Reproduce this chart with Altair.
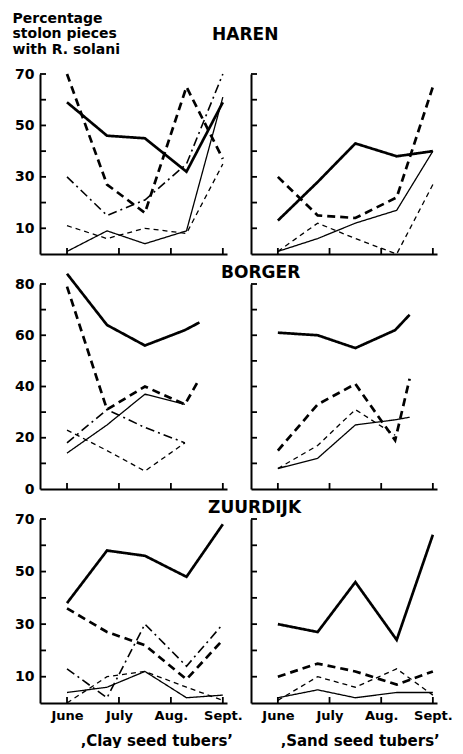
import json
import altair as alt
import pandas as pd

FONT = "DejaVu Sans"

# ---------------- data ----------------
months = ["June", "July", "Aug.", "Sept."]
month_ticks = [0, 1, 2, 3]

# sampling dates (in months after 1 June)
dates_haren = [0, 0.77, 1.5, 2.3, 3.0]
dates_borger = [0, 0.77, 1.5, 2.27, 2.55]
dates_zuurdijk = [0, 0.77, 1.5, 2.3, 3.0]

series_names = ["A", "B", "C", "D", "E"]

# HAREN
haren_clay_a = [59, 46, 45, 32, 59]
haren_clay_b = [70, 27, 16, 65, 37]
haren_clay_c = [1, 9, 4, 9, 61]
haren_clay_d = [11, 6, 10, 8, 35]
haren_clay_e = [30, 15, 21, 35, 70]

haren_sand_a = [13, 28, 43, 38, 40]
haren_sand_b = [30, 15, 14, 22, 65]
haren_sand_c = [1, 6, 12, 17, 40]
haren_sand_d = [1, 12, 6, 0, 27]

# BORGER
borger_clay_a = [84, 64, 56, 62, 65]
borger_clay_b = [79, 31, 40, 33, 43]
borger_clay_c = [14, 25, 37, 33, None]
borger_clay_d = [23, 15, 7, 18, None]
borger_clay_e = [18, 31, 24, 18, None]

borger_sand_a = [61, 60, 55, 62, 68]
borger_sand_b = [15, 33, 41, 19, 43]
borger_sand_c = [8, 12, 25, 27, 28]
borger_sand_d = [8, 17, 31, 21, None]

# ZUURDIJK
zuurdijk_clay_a = [38, 58, 56, 48, 68]
zuurdijk_clay_b = [36, 27, 22, 9, 24]
zuurdijk_clay_c = [4, 6, 12, 2, 3]
zuurdijk_clay_d = [0, 10, 12, 6, 1]
zuurdijk_clay_e = [13, 2, 30, 14, 30]

zuurdijk_sand_a = [30, 27, 46, 24, 64]
zuurdijk_sand_b = [10, 15, 12, 7, 12]
zuurdijk_sand_c = [2, 5, 2, 4, 4]
zuurdijk_sand_d = [1, 10, 6, 13, 3]

haren_labels = [10, 30, 50, 70]
borger_labels = [0, 20, 40, 60, 80]
zuurdijk_labels = [10, 30, 50, 70]

y_title = ["Percentage", "stolon pieces", "with R. solani"]
clay_caption = "\u201aClay seed tubers\u2019"
sand_caption = "\u201aSand seed tubers\u2019"

# ---------------- styles ----------------
series_width = [2.7, 2.7, 1.3, 1.3, 1.6]
series_dash = [[1, 0], [8, 5], [1, 0], [5, 4], [9, 4, 2, 4]]

LEFT_W, RIGHT_W = 187, 186
X_DOMAIN = [-0.52, 3.08]


def frame(dates, cols):
    rows = []
    for name, vals in zip(series_names, cols):
        for d, v in zip(dates, vals):
            if v is not None:
                rows.append({"month": d, "pct": v, "series": name})
    return pd.DataFrame(rows)


def panel(df, ymax, ylabels, w, h, left, bottom, ytitle=None, xtitle=None,
          xtitle_x=0, title=None):
    xs = alt.Scale(domain=X_DOMAIN, nice=False, zero=False)
    ys = alt.Scale(domain=[0, ymax], nice=False)
    label_expr = json.dumps(months) + "[datum.value]"
    xkw = dict(values=month_ticks, ticks=False, grid=False, domainColor="black",
               domainWidth=2, labels=bottom, labelExpr=label_expr,
               labelFont=FONT, labelFontSize=13, labelFontWeight="bold",
               labelColor="black", labelPadding=6, title=xtitle)
    if xtitle:
        xkw.update(titleFont=FONT, titleFontSize=15, titleFontWeight="bold",
                   titleColor="black", titleAlign="left", titleX=xtitle_x,
                   titleY=42, titleBaseline="alphabetic")
    xaxis = alt.Axis(**xkw)
    ykw = dict(values=ylabels, labels=left, ticks=False, grid=False,
               domainColor="black", domainWidth=2, labelFont=FONT,
               labelFontSize=14, labelFontWeight="bold", labelColor="black",
               labelPadding=6, title=ytitle)
    if ytitle:
        ykw.update(titleAngle=0, titleAlign="left", titleBaseline="alphabetic",
                   titleX=-28, titleY=-52, titleFont=FONT, titleFontSize=14,
                   titleFontWeight="bold", titleColor="black",
                   titleLineHeight=15.5)
    yaxis = alt.Axis(**ykw)

    layers = []
    for name, wd, dash in zip(series_names, series_width, series_dash):
        sub = df[df["series"] == name]
        if len(sub) == 0:
            continue
        layers.append(
            alt.Chart(sub).mark_line(color="black", strokeWidth=wd, strokeDash=dash)
            .encode(x=alt.X("month:Q", scale=xs, axis=xaxis),
                    y=alt.Y("pct:Q", scale=ys, axis=yaxis))
        )
    ytick_df = pd.DataFrame({"v": list(range(10, ymax + 1, 10))})
    layers.append(
        alt.Chart(ytick_df).mark_rule(color="black", strokeWidth=1.8)
        .encode(y=alt.Y("v:Q", scale=ys, axis=yaxis), x=alt.value(0), x2=alt.value(6))
    )
    xtick_df = pd.DataFrame({"m": month_ticks})
    layers.append(
        alt.Chart(xtick_df).mark_rule(color="black", strokeWidth=1.8)
        .encode(x=alt.X("m:Q", scale=xs, axis=xaxis), y=alt.value(h), y2=alt.value(h - 6))
    )
    ch = alt.layer(*layers).properties(width=w, height=h)
    if title:
        ch = ch.properties(title=title)
    return ch


def row_title(text, dx, dy):
    return alt.TitleParams(text=text, anchor="start", dx=dx, dy=dy, offset=0,
                           baseline="alphabetic", font=FONT, fontSize=17,
                           fontWeight="bold", color="black")


haren_clay = frame(dates_haren, [haren_clay_a, haren_clay_b, haren_clay_c, haren_clay_d, haren_clay_e])
haren_sand = frame(dates_haren, [haren_sand_a, haren_sand_b, haren_sand_c, haren_sand_d])
borger_clay = frame(dates_borger, [borger_clay_a, borger_clay_b, borger_clay_c, borger_clay_d, borger_clay_e])
borger_sand = frame(dates_borger, [borger_sand_a, borger_sand_b, borger_sand_c, borger_sand_d])
zuurdijk_clay = frame(dates_zuurdijk, [zuurdijk_clay_a, zuurdijk_clay_b, zuurdijk_clay_c, zuurdijk_clay_d, zuurdijk_clay_e])
zuurdijk_sand = frame(dates_zuurdijk, [zuurdijk_sand_a, zuurdijk_sand_b, zuurdijk_sand_c, zuurdijk_sand_d])

l1 = panel(haren_clay, 70, haren_labels, LEFT_W, 180, True, False, ytitle=y_title)
r1 = panel(haren_sand, 70, haren_labels, RIGHT_W, 180, False, False,
           title=row_title("HAREN", -38, -16))
l2 = panel(borger_clay, 80, borger_labels, LEFT_W, 205, True, False)
r2 = panel(borger_sand, 80, borger_labels, RIGHT_W, 205, False, False,
           title=row_title("BORGER", -29, 12))
l3 = panel(zuurdijk_clay, 70, zuurdijk_labels, LEFT_W, 184, True, True,
           xtitle=clay_caption, xtitle_x=40)
r3 = panel(zuurdijk_sand, 70, zuurdijk_labels, RIGHT_W, 184, False, True,
           xtitle=sand_caption, xtitle_x=29, title=row_title("ZUURDIJK", -42, 12))

chart = (
    alt.concat(l1, r1, l2, r2, l3, r3, columns=2,
               spacing={"row": 30, "column": 24}, bounds="flush")
    .properties(padding={"left": 4, "top": 3, "right": 0, "bottom": 0},
                background="white")
    .configure_view(stroke=None)
)

chart.save("out.html", embed_options={"renderer": "svg", "actions": False})
